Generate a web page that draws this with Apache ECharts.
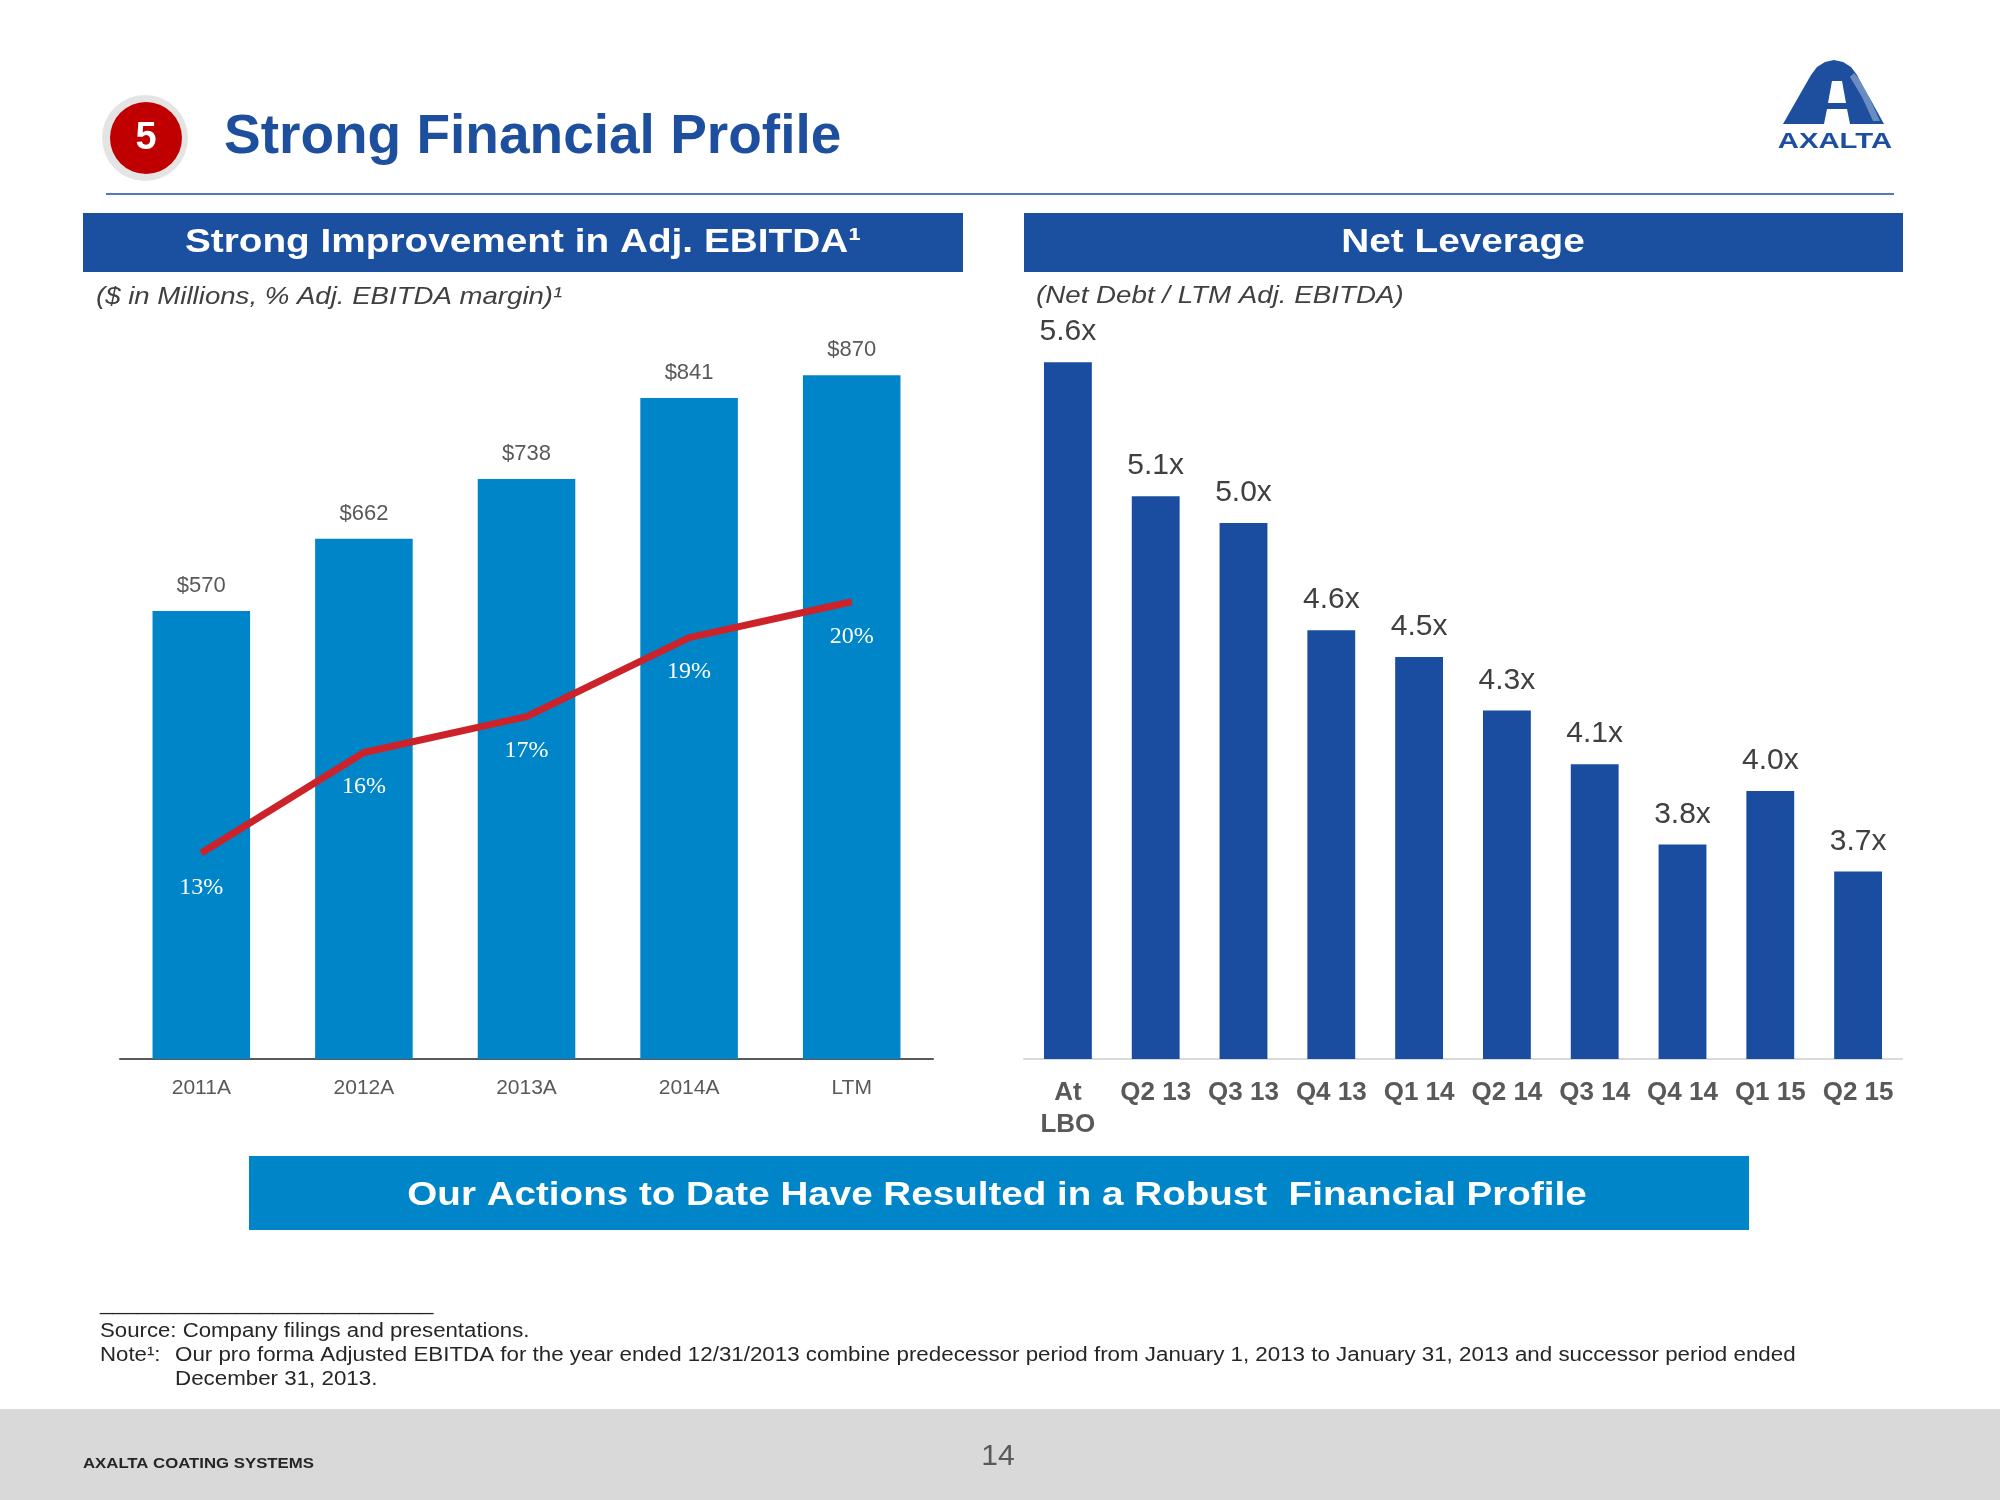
<!DOCTYPE html>
<html>
<head>
<meta charset="utf-8">
<style>html,body{margin:0;padding:0;background:#fff;}#chart{width:2000px;height:1500px;}</style>
<script src="https://cdn.jsdelivr.net/npm/echarts@6/dist/echarts.min.js"></script>
</head>
<body>
<div id="chart"></div>
<script>
// ---- data ----
const ebitdaCategories = ['2011A', '2012A', '2013A', '2014A', 'LTM'];
const ebitdaValues = [570, 662, 738, 841, 870];
const marginValues = [13.0, 15.8, 16.8, 19.0, 20.0];
const leverageCategories = ['At\nLBO', 'Q2 13', 'Q3 13', 'Q4 13', 'Q1 14', 'Q2 14', 'Q3 14', 'Q4 14', 'Q1 15', 'Q2 15'];
const leverageValues = [5.6, 5.1, 5.0, 4.6, 4.5, 4.3, 4.1, 3.8, 4.0, 3.7];

const SANS = '"Liberation Sans", Arial, sans-serif';
const SERIF = '"Liberation Serif", "Times New Roman", serif';
const BLUE_DARK = '#1B4F9F';
const BLUE_LIGHT = '#0086C8';

const chart = echarts.init(document.getElementById('chart'), null, {renderer: 'canvas'});

function txt(x, y, text, font, fill, align, sx) {
  return {type: 'text', x: x, y: y, scaleX: sx || 1, z: 3,
    style: {text: text, fill: fill, font: font, align: align || 'left', verticalAlign: 'middle'}};
}

const graphic = [
  // title circle
  {type: 'circle', shape: {cx: 145, cy: 138, r: 43}, style: {fill: '#E4E4E4'}, z: 1},
  {type: 'circle', shape: {cx: 146, cy: 138, r: 36}, style: {fill: '#C00000'}, z: 2},
  txt(146, 139, '5', 'bold 38px ' + SANS, '#fff', 'center'),
  txt(224, 138, 'Strong Financial Profile', 'bold 55px ' + SANS, '#1D4F9E', 'left'),
  {type: 'line', shape: {x1: 106, y1: 194, x2: 1894, y2: 194}, style: {stroke: '#1D4F9E', lineWidth: 1.5}},
  // logo
  {type: 'polygon', shape: {points: [[1783,124],[1811,75],[1817,67],[1825,62],[1834,60],[1843,62],[1851,67],[1857,75],[1884,124]]}, style: {fill: '#1D4F9E'}, z: 2},
  {type: 'polygon', shape: {points: [[1854,73],[1861,81],[1870,99],[1880,121],[1873,121],[1862,97],[1850,77]]}, style: {fill: 'rgba(255,255,255,0.35)'}, z: 3},
  {type: 'polygon', shape: {points: [[1832,81],[1842,81],[1846,103],[1828,103]]}, style: {fill: '#fff'}, z: 3},
  {type: 'polygon', shape: {points: [[1827,109],[1847,109],[1850,124],[1824,124]]}, style: {fill: '#fff'}, z: 3},
  txt(1835, 142, 'AXALTA', 'bold 22px ' + SANS, '#1D4F9E', 'center', 1.33),
  // header bars
  {type: 'rect', shape: {x: 83, y: 213, width: 880, height: 59}, style: {fill: BLUE_DARK}, z: 1},
  txt(523, 243, 'Strong Improvement in Adj. EBITDA¹', 'bold 34px ' + SANS, '#fff', 'center', 1.14),
  {type: 'rect', shape: {x: 1024, y: 213, width: 879, height: 59}, style: {fill: BLUE_DARK}, z: 1},
  txt(1463, 243, 'Net Leverage', 'bold 34px ' + SANS, '#fff', 'center', 1.14),
  // subtitles
  txt(96, 297, '($ in Millions, % Adj. EBITDA margin)¹', 'italic 24px ' + SANS, '#404040', 'left', 1.15),
  txt(1036, 296, '(Net Debt / LTM Adj. EBITDA)', 'italic 24px ' + SANS, '#404040', 'left', 1.155),
  // bottom banner
  {type: 'rect', shape: {x: 249, y: 1156, width: 1500, height: 74}, style: {fill: BLUE_LIGHT}, z: 1},
  txt(997, 1196, 'Our Actions to Date Have Resulted in a Robust  Financial Profile', 'bold 34px ' + SANS, '#fff', 'center', 1.135),
  // footnotes
  txt(100, 1304, '___________________________', '20px ' + SANS, '#262626', 'left', 1.11),
  txt(100, 1331, 'Source: Company filings and presentations.', '20px ' + SANS, '#262626', 'left', 1.11),
  txt(100, 1355, 'Note¹:', '20px ' + SANS, '#262626', 'left', 1.11),
  txt(175, 1355, 'Our pro forma Adjusted EBITDA for the year ended 12/31/2013 combine predecessor period from January 1, 2013 to January 31, 2013 and successor period ended', '20px ' + SANS, '#262626', 'left', 1.117),
  txt(175, 1379, 'December 31, 2013.', '20px ' + SANS, '#262626', 'left', 1.117),
  // footer
  {type: 'rect', shape: {x: 0, y: 1409, width: 2000, height: 91}, style: {fill: '#D9D9D9'}, z: 1},
  txt(83, 1464, 'AXALTA COATING SYSTEMS', 'bold 15px ' + SANS, '#262626', 'left', 1.117),
  txt(998, 1457, '14', '30px ' + SANS, '#595959', 'center')
];

const option = {
  animation: false,
  backgroundColor: '#fff',
  textStyle: {fontFamily: SANS},
  graphic: graphic,
  grid: [
    {left: 120, top: 273, width: 813, height: 786},
    {left: 1024, top: 255, width: 878, height: 804}
  ],
  xAxis: [
    {
      type: 'category', gridIndex: 0, data: ebitdaCategories,
      axisLine: {lineStyle: {color: '#595959', width: 2}},
      axisTick: {show: false},
      axisLabel: {color: '#595959', fontSize: 21, margin: 19, fontFamily: SANS}
    },
    {
      type: 'category', gridIndex: 1, data: leverageCategories,
      axisLine: {lineStyle: {color: '#D9D9D9', width: 2}},
      axisTick: {show: false},
      axisLabel: {interval: 0, color: '#595959', fontSize: 26, fontWeight: 'bold', lineHeight: 32, margin: 18, fontFamily: SANS}
    }
  ],
  yAxis: [
    {type: 'value', gridIndex: 0, min: 0, max: 1000, show: false},
    {type: 'value', gridIndex: 0, min: 7.26, max: 29.16, show: false},
    {type: 'value', gridIndex: 1, min: 3, max: 6, show: false}
  ],
  series: [
    {
      type: 'bar', xAxisIndex: 0, yAxisIndex: 0, data: ebitdaValues, barWidth: '60%',
      itemStyle: {color: BLUE_LIGHT},
      label: {show: true, position: 'top', distance: 14, color: '#595959', fontSize: 22, fontFamily: SANS,
        formatter: p => '$' + p.value}
    },
    {
      type: 'line', xAxisIndex: 0, yAxisIndex: 1, data: marginValues,
      symbol: 'circle', symbolSize: 1, z: 5,
      lineStyle: {color: '#CC2229', width: 7},
      itemStyle: {color: '#CC2229'},
      label: {show: true, position: 'bottom', distance: 22, color: '#fff', fontSize: 24, fontFamily: SERIF,
        formatter: p => Math.round(p.value) + '%'}
    },
    {
      type: 'bar', xAxisIndex: 1, yAxisIndex: 2, data: leverageValues, barWidth: '54.5%',
      itemStyle: {color: '#1A4D9F'},
      label: {show: true, position: 'top', distance: 15, color: '#404040', fontSize: 30, fontFamily: SANS,
        formatter: p => p.value.toFixed(1) + 'x'}
    }
  ]
};
chart.setOption(option);
</script>
</body>
</html>
